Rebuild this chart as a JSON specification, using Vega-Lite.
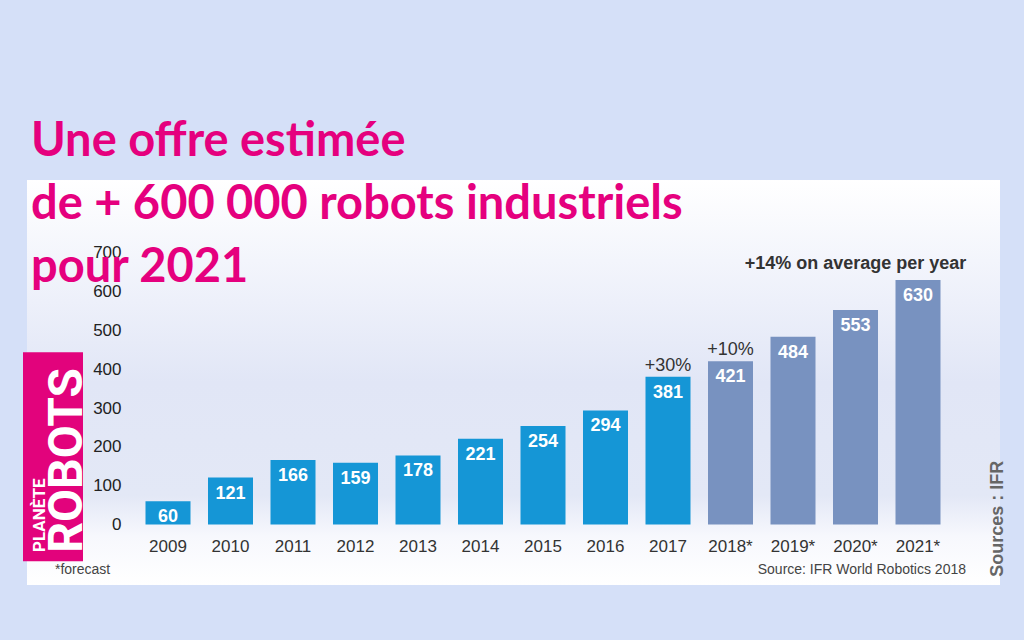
{
  "$schema": "https://vega.github.io/schema/vega-lite/v6.json",
  "width": 973,
  "height": 405,
  "autosize": {"type": "none"},
  "padding": {"left": 27, "top": 180, "right": 24, "bottom": 55},
  "background": "#d5e0f8",
  "config": {
    "view": {
      "stroke": null,
      "fill": {
        "gradient": "linear", "x1": 0, "y1": 0, "x2": 0, "y2": 1,
        "stops": [
          {"offset": 0, "color": "#ffffff"},
          {"offset": 0.2, "color": "#f3f5fc"},
          {"offset": 0.5, "color": "#e1e6f6"},
          {"offset": 0.78, "color": "#e3e8f6"},
          {"offset": 0.88, "color": "#f7f8fd"},
          {"offset": 1, "color": "#ffffff"}
        ]
      }
    },
    "font": "Liberation Sans"
  },
  "title": {
    "text": ["Une offre estimée", "de + 600 000 robots industriels", "pour 2021"],
    "anchor": "start",
    "frame": "group",
    "orient": "top",
    "baseline": "alphabetic",
    "offset": -149,
    "dx": 4,
    "font": "Lato",
    "fontSize": 47,
    "fontWeight": "bold",
    "lineHeight": 63,
    "color": "#e5007e"
  },
  "datasets": {
    "robots": [
      {"year": "2009", "value": 60, "kind": "actual"},
      {"year": "2010", "value": 121, "kind": "actual"},
      {"year": "2011", "value": 166, "kind": "actual"},
      {"year": "2012", "value": 159, "kind": "actual"},
      {"year": "2013", "value": 178, "kind": "actual"},
      {"year": "2014", "value": 221, "kind": "actual"},
      {"year": "2015", "value": 254, "kind": "actual"},
      {"year": "2016", "value": 294, "kind": "actual"},
      {"year": "2017", "value": 381, "kind": "actual", "growth": "+30%"},
      {"year": "2018*", "value": 421, "kind": "forecast", "growth": "+10%"},
      {"year": "2019*", "value": 484, "kind": "forecast"},
      {"year": "2020*", "value": 553, "kind": "forecast", "avg": "+14% on average per year"},
      {"year": "2021*", "value": 630, "kind": "forecast"}
    ]
  },
  "layer": [
    {
      "encoding": {
        "x": {
          "field": "year", "type": "nominal", "sort": null,
          "scale": {
            "domain": ["2009","2010","2011","2012","2013","2014","2015","2016","2017","2018*","2019*","2020*","2021*"],
            "range": [118.5, 913.5],
            "paddingInner": 0.28, "paddingOuter": 0
          },
          "axis": {
            "title": null, "domain": false, "ticks": false, "tickSize": 0,
            "labelAngle": 0, "labelFontSize": 17, "labelColor": "#333333",
            "labelPadding": 14, "offset": -61
          }
        }
      },
      "layer": [
        {
          "data": {"name": "robots"},
          "mark": {"type": "bar"},
          "encoding": {
            "y": {
              "field": "value", "type": "quantitative",
              "scale": {"domain": [-156, 888], "nice": false, "zero": false},
              "axis": {
                "title": null, "domain": false, "ticks": false, "tickSize": 0, "grid": false,
                "values": [0, 100, 200, 300, 400, 500, 600, 700],
                "labelFontSize": 17, "labelColor": "#222222", "labelPadding": 3, "offset": -97
              }
            },
            "y2": {"datum": 0},
            "color": {
              "field": "kind", "type": "nominal",
              "scale": {"domain": ["actual", "forecast"], "range": ["#1596d6", "#7892c0"]},
              "legend": null
            }
          }
        },
        {
          "data": {"name": "robots"},
          "mark": {"type": "text", "color": "#ffffff", "fontWeight": "bold", "fontSize": 18, "baseline": "middle", "dy": 16},
          "encoding": {
            "y": {"field": "value", "type": "quantitative"},
            "text": {"field": "value", "type": "quantitative"}
          }
        },
        {
          "data": {"name": "robots"},
          "transform": [{"filter": "datum.growth"}],
          "mark": {"type": "text", "color": "#333333", "fontSize": 18, "baseline": "middle", "dy": -11},
          "encoding": {
            "y": {"field": "value", "type": "quantitative"},
            "text": {"field": "growth", "type": "nominal"}
          }
        },
        {
          "data": {"name": "robots"},
          "transform": [{"filter": "datum.avg"}],
          "mark": {"type": "text", "color": "#333333", "fontSize": 18, "fontWeight": "bold", "baseline": "middle", "dy": -46},
          "encoding": {
            "y": {"field": "value", "type": "quantitative"},
            "text": {"field": "avg", "type": "nominal"}
          }
        },
        {
          "data": {"values": [{}]},
          "mark": {"type": "text", "text": "*forecast", "color": "#444444", "fontSize": 14, "align": "left", "baseline": "middle", "dx": -113},
          "encoding": {
            "x": {"datum": "2009", "type": "nominal"},
            "y": {"datum": -117, "type": "quantitative"}
          }
        },
        {
          "data": {"values": [{}]},
          "mark": {"type": "text", "text": "Source: IFR World Robotics 2018", "color": "#444444", "fontSize": 14, "align": "right", "baseline": "middle", "dx": 48},
          "encoding": {
            "x": {"datum": "2021*", "type": "nominal"},
            "y": {"datum": -117, "type": "quantitative"}
          }
        },
        {
          "data": {"values": [{}]},
          "mark": {"type": "text", "text": "Sources : IFR", "color": "#666666", "fontSize": 18, "fontWeight": "bold", "angle": 270, "align": "left", "baseline": "middle", "dy": 80},
          "encoding": {
            "x": {"datum": "2021*", "type": "nominal"},
            "y": {"datum": -135, "type": "quantitative"}
          }
        }
      ]
    },
    {
      "data": {"values": [{}]},
      "encoding": {
        "x": {
          "datum": "logo", "type": "nominal",
          "scale": {"domain": ["logo"], "range": [-4, 56], "paddingInner": 0, "paddingOuter": 0},
          "axis": null
        }
      },
      "layer": [
        {
          "mark": {"type": "bar", "color": "#e2037c"},
          "encoding": {
            "y": {"datum": 444, "type": "quantitative"},
            "y2": {"datum": -95}
          }
        },
        {
          "mark": {"type": "text", "text": "ROBOTS", "font": "Roboto", "fontWeight": "bold", "fontSize": 48, "color": "#ffffff", "angle": 270, "align": "left", "baseline": "alphabetic", "dy": 29},
          "encoding": {
            "y": {"datum": -73, "type": "quantitative"}
          }
        },
        {
          "mark": {"type": "text", "text": "PLANÈTE", "font": "Roboto", "fontWeight": "bold", "fontSize": 17, "color": "#ffffff", "angle": 270, "align": "left", "baseline": "alphabetic", "dy": -8},
          "encoding": {
            "y": {"datum": -71, "type": "quantitative"}
          }
        }
      ]
    }
  ],
  "resolve": {"scale": {"x": "independent"}}
}
